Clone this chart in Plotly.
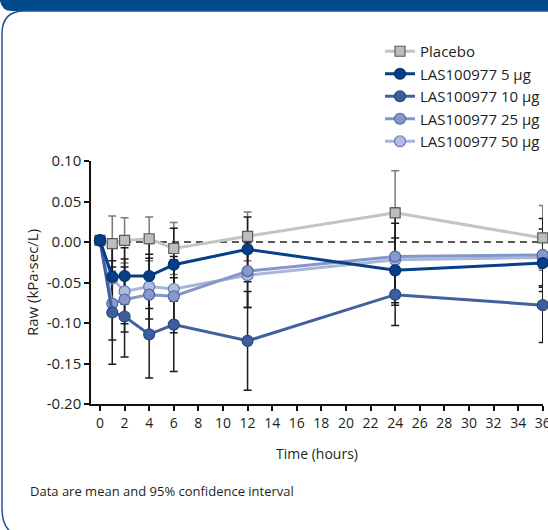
import plotly.graph_objects as go

# ---- data ---------------------------------------------------------------
hours = [0, 1, 2, 4, 6, 12, 24, 36]
x_ticks = list(range(0, 37, 2))
y_ticks = [0.10, 0.05, 0.00, -0.05, -0.10, -0.15, -0.20]

placebo = [0.002, -0.002, 0.002, 0.004, -0.008, 0.007, 0.036, 0.005]
placebo_ci = [0.0, 0.034, 0.028, 0.027, 0.032, 0.030, 0.052, 0.040]

las_5 = [0.002, -0.043, -0.042, -0.042, -0.028, -0.009, -0.035, -0.026]
las_5_ci = [0.0, 0.040, 0.035, 0.040, 0.045, 0.040, 0.040, 0.030]

las_10 = [0.002, -0.087, -0.092, -0.114, -0.102, -0.122, -0.065, -0.078]
las_10_ci = [0.0, 0.064, 0.050, 0.054, 0.058, 0.061, 0.038, 0.046]

las_25 = [0.002, -0.076, -0.071, -0.065, -0.067, -0.036, -0.018, -0.016]
las_25_ci = [0.0, 0.045, 0.040, 0.045, 0.045, 0.045, 0.060, 0.045]

las_50 = [0.002, -0.045, -0.061, -0.055, -0.058, -0.041, -0.022, -0.019]
las_50_ci = [0.0, 0.040, 0.040, 0.040, 0.040, 0.040, 0.045, 0.035]

names = ["Placebo", "LAS100977 5 µg", "LAS100977 10 µg",
         "LAS100977 25 µg", "LAS100977 50 µg"]

# ---- canvas geometry (pixels) -------------------------------------------
W, H = 548, 530
ML, MR, MT, MB = 91, 5, 161, 126
PW, PH = W - ML - MR, H - MT - MB


def px(x):
    return (x - ML) / PW


def py(y):
    return (H - MB - y) / PH


FONT = "Open Sans"
TXT = "#231f20"

series = [
    # name, values, ci, line colour, marker fill, marker edge, symbol, legend rank
    (names[0], placebo, placebo_ci, "#c4c4c4", "#bdbdbd", "#5a5a5a", "square", 1),
    (names[4], las_50, las_50_ci, "#a9b6da", "#b0bde1", "#5f76b0", "circle", 5),
    (names[3], las_25, las_25_ci, "#8496c8", "#8799cb", "#4c66a6", "circle", 4),
    (names[2], las_10, las_10_ci, "#41609e", "#3d5d9c", "#2a4884", "circle", 3),
    (names[1], las_5, las_5_ci, "#053f88", "#063f88", "#03306c", "circle", 2),
]

fig = go.Figure()

# confidence-interval bars underneath every line
for name, vals, ci, *_ in series:
    fig.add_trace(go.Scatter(
        x=hours, y=vals, mode="markers",
        marker=dict(size=1, color="rgba(0,0,0,0)"),
        error_y=dict(type="data", array=ci, visible=True,
                     color="#7a7a7a" if name == "Placebo" else "#1c1c1c",
                     thickness=1.5, width=4),
        showlegend=False, hoverinfo="skip", cliponaxis=False,
    ))

for name, vals, ci, lc, mf, me, sym, rank in series:
    fig.add_trace(go.Scatter(
        x=hours, y=vals, name=name, mode="lines+markers",
        line=dict(color=lc, width=3),
        marker=dict(symbol=sym, size=10 if sym == "square" else 11,
                    color=mf, line=dict(color=me, width=1.2)),
        legendrank=rank, cliponaxis=False,
    ))

shapes = [
    # dashed reference line at zero
    dict(type="line", xref="x", yref="y", x0=0, x1=36, y0=0, y1=0,
         line=dict(color="#222222", width=1.3, dash="7px,5px"), layer="below"),
    # header band
    dict(type="path", xref="paper", yref="paper",
         path=(f"M {px(-2)},{py(-2)} L {px(550)},{py(-2)} L {px(550)},{py(11)} "
               f"L {px(12)},{py(11)} Q {px(2)},{py(11)} {px(0)},{py(1)} "
               f"L {px(-2)},{py(1)} Z"),
         fillcolor="#004b8d", line=dict(width=0)),
    # framed panel
    dict(type="path", xref="paper", yref="paper",
         path=(f"M {px(560)},{py(11)} L {px(24)},{py(11)} "
               f"Q {px(2)},{py(11)} {px(2)},{py(34)} L {px(2)},{py(508)} "
               f"Q {px(2)},{py(528)} {px(14)},{py(534)}"),
         line=dict(color="#1f5595", width=1.5)),
]

fig.update_layout(
    width=W, height=H,
    margin=dict(l=ML, r=MR, t=MT, b=MB, pad=0, autoexpand=False),
    paper_bgcolor="white", plot_bgcolor="white",
    font=dict(family=FONT, size=15, color=TXT),
    shapes=shapes,
    showlegend=True,
    legend=dict(x=px(380), y=py(35), xanchor="left", yanchor="top",
                font=dict(family=FONT, size=15, color=TXT),
                bgcolor="rgba(0,0,0,0)", borderwidth=0,
                tracegroupgap=0, itemwidth=30),
    xaxis=dict(range=[-0.73, 36.02], tickmode="array", tickvals=x_ticks,
               ticktext=[str(t) for t in x_ticks], automargin=False,
               ticklabeloverflow="allow",
               showline=True, linecolor="#111111", linewidth=1.5,
               ticks="outside", ticklen=5, tickwidth=1.5, tickcolor="#111111",
               showgrid=False, zeroline=False,
               tickfont=dict(family=FONT, size=14, color=TXT),
               title=dict(text="Time (hours)", standoff=19,
                          font=dict(family=FONT, size=14, color=TXT))),
    yaxis=dict(range=[-0.2, 0.1], tickmode="array", tickvals=y_ticks,
               ticktext=[f"{v:.2f}" for v in y_ticks], automargin=False,
               showline=True, linecolor="#111111", linewidth=1.5,
               ticks="outside", ticklen=5, tickwidth=1.5, tickcolor="#111111",
               showgrid=False, zeroline=False,
               tickfont=dict(family=FONT, size=15, color=TXT),
               title=dict(text="Raw (kPa·sec/L)", standoff=5,
                          font=dict(family=FONT, size=15, color=TXT))),
    annotations=[dict(
        text="Data are mean and 95% confidence interval",
        xref="paper", yref="paper", x=px(28), y=py(491),
        xanchor="left", yanchor="middle", showarrow=False,
        font=dict(family=FONT, size=13, color=TXT))],
)

fig.write_html("out.html")
